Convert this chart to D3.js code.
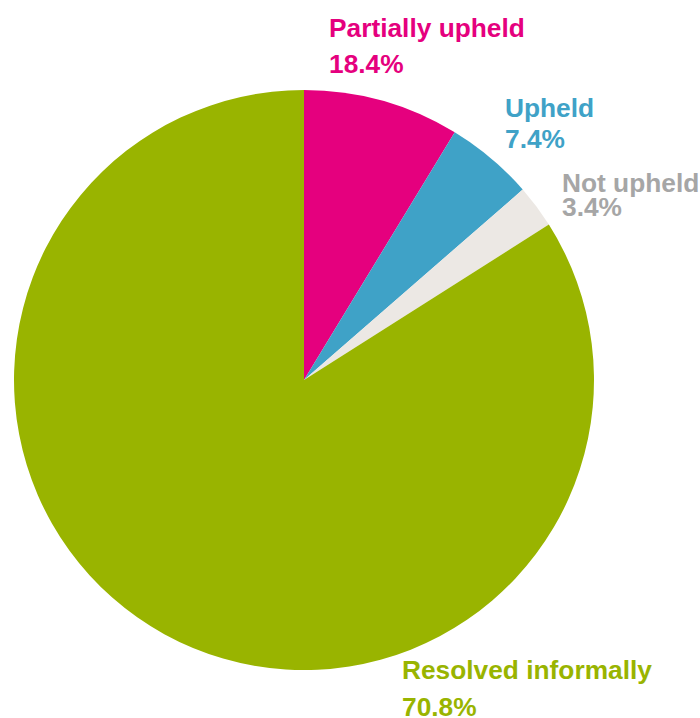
<!DOCTYPE html>
<html>
<head>
<meta charset="utf-8">
<script src="https://cdn.jsdelivr.net/npm/d3@7"></script>
<style>
  html, body { margin: 0; padding: 0; background: #fff; }
  .slice-label { font-family: "Liberation Sans", Arial, sans-serif; font-weight: bold; font-size: 26.3px; }
</style>
</head>
<body>
<div id="chart"></div>
<script>
// categories, in drawing order (clockwise from 12 o'clock)
const categories = ["Partially upheld", "Upheld", "Not upheld", "Resolved informally"];
// slice sizes as drawn in the picture (share of the circle, %)
const sliceValues = [8.7, 4.9, 2.4, 84.0];
// percentages printed in the labels
const labelValues = [18.4, 7.4, 3.4, 70.8];

const sliceColors = ["#e5007e", "#3fa2c7", "#ece8e4", "#99b400"];
const textColors = ["#e5007e", "#3fa2c7", "#a6a6a6", "#99b400"];
// label placement: left x, first baseline, gap to second line
const labelLayout = [
    {x: 329, y: 37, gap: 36},
    {x: 505, y: 117, gap: 31},
    {x: 562, y: 192, gap: 24},
    {x: 402, y: 679, gap: 37}
];

function renderPie(selector) {
    const width = 700, height = 718;
    const cx = 304, cy = 380, radius = 290;

    const svg = d3.select(selector).append("svg")
        .attr("width", width)
        .attr("height", height)
        .attr("viewBox", `0 0 ${width} ${height}`);

    const data = categories.map((c, i) => ({
        name: c, value: sliceValues[i], label: labelValues[i], i: i
    }));

    const pie = d3.pie()
        .sort(null)
        .value(d => d.value);

    const arc = d3.arc()
        .innerRadius(0)
        .outerRadius(radius);

    const g = svg.append("g")
        .attr("transform", `translate(${cx}, ${cy})`);

    g.selectAll("path")
        .data(pie(data))
        .enter()
        .append("path")
        .attr("d", arc)
        .attr("fill", d => sliceColors[d.data.i]);

    const labels = svg.selectAll(".slice-label")
        .data(data)
        .enter()
        .append("text")
        .attr("class", "slice-label")
        .attr("fill", d => textColors[d.i]);

    labels.append("tspan")
        .attr("x", d => labelLayout[d.i].x)
        .attr("y", d => labelLayout[d.i].y)
        .text(d => d.name);

    labels.append("tspan")
        .attr("x", d => labelLayout[d.i].x)
        .attr("y", d => labelLayout[d.i].y + labelLayout[d.i].gap)
        .text(d => `${d3.format(".1f")(d.label)}%`);
}

renderPie("#chart");
</script>
</body>
</html>
